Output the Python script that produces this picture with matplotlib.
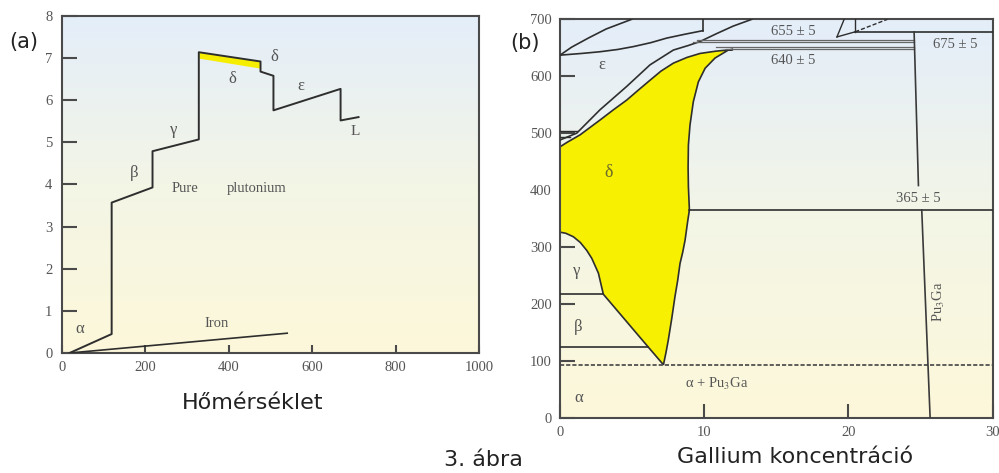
import numpy as np
import matplotlib
matplotlib.use("Agg")
import matplotlib.pyplot as plt
from matplotlib.colors import LinearSegmentedColormap

plt.rcParams['mathtext.fontset'] = 'stix'

# ---------------- data: panel (a) ----------------
pu_temp = [18, 119, 119, 217, 217, 328, 328, 476, 476, 507, 507, 668, 668, 711]
pu_dl   = [0, 0.45, 3.57, 3.93, 4.79, 5.07, 7.14, 6.92, 6.68, 6.58, 5.76, 6.27, 5.52, 5.60]
delta_band_temp = [328, 476]
delta_band_top  = [7.14, 6.92]
delta_band_bot  = [7.00, 6.76]
iron_temp = [18, 540]
iron_dl   = [0, 0.47]
a_xticks = [0, 200, 400, 600, 800, 1000]
a_yticks = [0, 1, 2, 3, 4, 5, 6, 7, 8]

# ---------------- data: panel (b) ----------------
delta_top_x = [0, 0.5, 1.39, 2.77, 3.7, 4.62, 5.4, 6.24, 7.0, 7.86, 8.8, 9.71, 10.8, 12.0]
delta_top_t = [476, 484, 497, 523, 541, 558, 575, 593, 609, 623, 633, 640, 644, 647]
delta_right_x = [12.0, 11.67, 10.75, 10.06, 9.59, 9.24, 9.01, 8.9, 8.88, 8.9, 8.97, 8.85, 8.67, 8.5, 8.32, 8.15, 7.97, 7.75, 7.51, 7.35, 7.17]
delta_right_t = [647, 646, 632, 614, 590, 555, 514, 479, 440, 406, 365, 345, 312, 290, 271, 240, 213, 175, 137, 115, 93]
delta_left_x = [7.17, 6.12, 3.0]
delta_left_t = [93, 124, 217]
gamma_x = [3.0, 2.66, 2.2, 1.85, 1.4, 0.92, 0.4, 0]
gamma_t = [217, 254, 280, 294, 308, 318, 324, 326]

eps_low_x = [0, 1.16, 2.77, 4.62, 6.24, 7.86, 8.9, 9.71, 10.87, 12.0, 13.3]
eps_low_t = [488, 500, 541, 582, 620, 646, 654, 661, 675, 688, 700]
liqA_x = [0, 0.8, 1.96, 3.2, 4.97]
liqA_t = [637, 651, 667, 683, 700]
liqB_x = [0, 1.5, 2.77, 4.0, 5.08, 6.3, 7.4, 8.7, 9.9]
liqB_t = [637, 640, 643, 647, 652, 659, 667, 674, 680]

pu3ga_up_x = [24.55, 24.85]
pu3ga_up_t = [678, 408]
pu3ga_lo_x = [25.08, 25.66]
pu3ga_lo_t = [365, 0]

b_xticks = [0, 10, 20, 30]
b_yticks = [0, 100, 200, 300, 400, 500, 600, 700]

LINE = '#2e2e2e'
TXT = '#555555'
SPINE = '#4a4a4a'
serif = 'Liberation Serif'

fig = plt.figure(figsize=(9.99, 4.73), dpi=100)
fig.patch.set_facecolor('white')

grad = LinearSegmentedColormap.from_list('g', ['#fdf8da', '#f3f5e6', '#e4eefa'])

def background(ax, x0, x1, y0, y1):
    g = np.linspace(0, 1, 256)[:, None]
    ax.imshow(g, extent=[x0, x1, y0, y1], aspect='auto', cmap=grad,
              origin='lower', zorder=0, interpolation='bilinear')

def style(ax):
    for s in ax.spines.values():
        s.set_color(SPINE)
        s.set_linewidth(1.5)
    for lab in ax.get_xticklabels() + ax.get_yticklabels():
        lab.set_fontfamily(serif)
        lab.set_color(TXT)
        lab.set_fontsize(10.5)

# ---------------- panel (a) ----------------
axa = fig.add_axes([0.0621, 0.2537, 0.4174, 0.7125])
background(axa, 0, 1000, 0, 8)
axa.set_xlim(0, 1000)
axa.set_ylim(0, 8)
axa.fill_between(delta_band_temp, delta_band_bot, delta_band_top, color='#f5ee00', lw=0, zorder=2)
axa.plot(pu_temp, pu_dl, color=LINE, lw=1.4, zorder=3)
axa.plot(iron_temp, iron_dl, color=LINE, lw=1.2, zorder=3)
axa.set_xticks(a_xticks)
axa.set_yticks(a_yticks)
axa.tick_params(axis='y', direction='in', length=11, width=1.5, color=SPINE, pad=7)
axa.tick_params(axis='x', direction='in', length=6, width=1.5, color=SPINE, pad=6)
style(axa)

tk = dict(family=serif, color=TXT, ha='center', va='center')
axa.text(43, 0.57, 'α', fontsize=12, **tk)
axa.text(371, 0.70, 'Iron', fontsize=10.5, **tk)
axa.text(173, 4.27, 'β', fontsize=12, **tk)
axa.text(295, 3.91, 'Pure', fontsize=10.5, **tk)
axa.text(467, 3.91, 'plutonium', fontsize=10.5, **tk)
axa.text(267, 5.30, 'γ', fontsize=12, **tk)
axa.text(408, 6.50, 'δ', fontsize=12, **tk)
axa.text(508, 7.02, 'δ', fontsize=12, **tk)
axa.text(573, 6.34, 'ε', fontsize=12, **tk)
axa.text(704, 5.26, 'L', fontsize=11, **tk)

# ---------------- panel (b) ----------------
axb = fig.add_axes([0.5606, 0.1169, 0.4331, 0.8423])
background(axb, 0, 30, 0, 700)
axb.set_xlim(0, 30)
axb.set_ylim(0, 700)

dx = delta_top_x + delta_right_x + delta_left_x + gamma_x
dt = delta_top_t + delta_right_t + delta_left_t + gamma_t
axb.fill(dx, dt, facecolor='#f7f000', edgecolor=LINE, lw=1.2, zorder=2)

axb.plot(eps_low_x, eps_low_t, color=LINE, lw=1.2, zorder=3)
axb.plot(liqA_x, liqA_t, color=LINE, lw=1.2, zorder=3)
axb.plot(liqB_x, liqB_t, color=LINE, lw=1.2, zorder=3)
axb.plot([9.9, 9.9], [680, 700], color=LINE, lw=1.2, zorder=3)

# short hatch lines near the delta / delta' / epsilon transitions at x=0
axb.plot([0, 1.2], [503, 503], color=LINE, lw=1.0, zorder=3)
axb.plot([0, 0.7], [494, 494], color=LINE, lw=1.0, zorder=3)

# horizontal invariant lines
axb.plot([9.5, 24.55], [664, 664], color='#666666', lw=0.9, zorder=3)
axb.plot([9.2, 24.55], [660, 660], color='#666666', lw=0.9, zorder=3)
axb.plot([10.8, 24.55], [651, 651], color='#666666', lw=0.9, zorder=3)
axb.plot([11.5, 24.55], [647, 647], color='#666666', lw=0.9, zorder=3)
axb.plot([20.46, 30], [678, 678], color=LINE, lw=1.2, zorder=3)
axb.plot([8.95, 30], [365, 365], color=LINE, lw=1.2, zorder=3)
axb.plot([0, 3.0], [217, 217], color=LINE, lw=1.2, zorder=3)
axb.plot([0, 6.12], [124, 124], color=LINE, lw=1.2, zorder=3)
axb.plot([0, 30], [93, 93], color='#444444', lw=1.2, ls=(0, (2.5, 1.2)), zorder=3)

# top-right small lines
axb.plot([19.2, 19.7], [669, 700], color=LINE, lw=1.0, zorder=3)
axb.plot([19.2, 20.46], [669, 678], color=LINE, lw=1.0, zorder=3)
axb.plot([20.46, 20.46], [678, 700], color=LINE, lw=1.0, zorder=3)
axb.plot([20.46, 22.7], [678, 700], color=LINE, lw=1.0, ls=(0, (3, 1.5)), zorder=3)

# Pu3Ga line
axb.plot(pu3ga_up_x, pu3ga_up_t, color='#3a3a3a', lw=1.2, zorder=3)
axb.plot(pu3ga_lo_x, pu3ga_lo_t, color='#3a3a3a', lw=1.2, zorder=3)

axb.set_xticks(b_xticks)
axb.set_yticks(b_yticks)
axb.tick_params(axis='y', direction='in', length=11, width=1.5, color=SPINE, pad=6)
axb.tick_params(axis='x', direction='in', length=10, width=1.5, color=SPINE, pad=6)
style(axb)

axb.text(16.2, 678, '655 ± 5', fontsize=10.5, **tk)
axb.text(16.2, 627, '640 ± 5', fontsize=10.5, **tk)
axb.text(27.4, 655, '675 ± 5', fontsize=10.5, **tk)
axb.text(24.85, 386, '365 ± 5', fontsize=10.5, **tk)
axb.text(2.89, 620, 'ε', fontsize=12, **tk)
axb.text(3.35, 430, 'δ', fontsize=13, family=serif, color='#6a6a2a', ha='center', va='center')
axb.text(1.16, 257, 'γ', fontsize=12, **tk)
axb.text(1.27, 160, 'β', fontsize=12, **tk)
axb.text(1.27, 34, 'α', fontsize=12, **tk)
axb.text(10.9, 60, 'α + Pu$_3$Ga', fontsize=10.5, **tk)
axb.text(26.25, 204, 'Pu$_3$Ga', fontsize=10.5, rotation=90, **tk)

# ---------------- figure labels ----------------
fig.text(0.024, 0.911, '(a)', fontsize=15, ha='center', va='center', family='DejaVu Sans', color='#222222')
fig.text(0.5255, 0.909, '(b)', fontsize=15, ha='center', va='center', family='DejaVu Sans', color='#222222')
fig.text(0.2533, 0.148, 'Hőmérséklet', fontsize=16, ha='center', va='center', family='DejaVu Sans', color='#222222')
fig.text(0.7958, 0.034, 'Gallium koncentráció', fontsize=16, ha='center', va='center', family='DejaVu Sans', color='#222222')
fig.text(0.4835, 0.028, '3. ábra', fontsize=16, ha='center', va='center', family='DejaVu Sans', color='#222222')

fig.savefig('out.png', dpi=100)
